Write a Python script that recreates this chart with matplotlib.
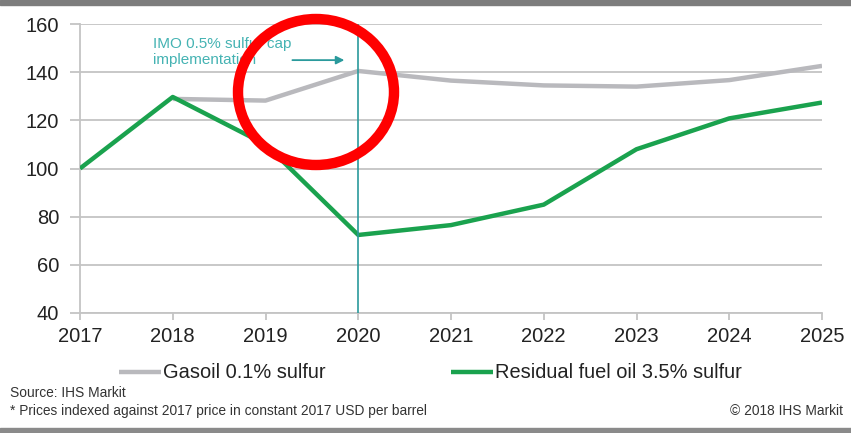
import matplotlib.pyplot as plt
from matplotlib.patches import Ellipse, Rectangle

plt.rcParams["font.family"] = ["Liberation Sans", "DejaVu Sans"]

years = [2017, 2018, 2019, 2020, 2021, 2022, 2023, 2024, 2025]
gasoil_years = [2018, 2019, 2020, 2021, 2022, 2023, 2024, 2025]
gasoil = [128.9, 128.2, 140.5, 136.5, 134.5, 134.0, 136.7, 142.6]
resid = [100.0, 129.7, 110.0, 72.4, 76.5, 85.0, 108.0, 120.8, 127.4]
yticks = [40, 60, 80, 100, 120, 140, 160]

GRAY = "#b9b9bd"
GREEN = "#1aa24e"
TEAL = "#2a9a9c"
GRID = "#c4c4c4"

fig = plt.figure(figsize=(8.51, 4.33), dpi=100)
ax = fig.add_axes([80 / 851, 1 - 313 / 433, 742 / 851, 289 / 433])

ax.plot(gasoil_years, gasoil, color=GRAY, lw=3.2, solid_capstyle="butt",
        label="Gasoil 0.1% sulfur", zorder=3)
ax.plot(years, resid, color=GREEN, lw=3.2, solid_capstyle="butt",
        label="Residual fuel oil 3.5% sulfur", zorder=4)

ax.axvline(2020, color=TEAL, lw=1.2, zorder=5)

ax.set_xlim(2017, 2025)
ax.set_ylim(40, 160)
ax.set_yticks(yticks)
ax.set_xticks(years)
ax.yaxis.grid(True, color=GRID, lw=1.3)
ax.set_axisbelow(True)
for s in ["top", "right"]:
    ax.spines[s].set_visible(False)
for s in ["left", "bottom"]:
    ax.spines[s].set_color(GRID)
    ax.spines[s].set_linewidth(1.3)
ax.tick_params(axis="y", length=7, color=GRID, width=1.3, labelsize=14.5, pad=8,
               labelcolor="#222222")
ax.tick_params(axis="x", length=5, color=GRID, width=1.3, labelsize=14.5, pad=5,
               labelcolor="#222222")

ax.text(2017.79, 154.8, "IMO 0.5% sulfur cap\nimplementation", color="#45b3b3",
        fontsize=11, ha="left", va="top", linespacing=1.25)
ax.annotate("", xy=(2019.88, 145.0), xytext=(2019.26, 145.0),
            arrowprops=dict(arrowstyle="-|>", color=TEAL, lw=1.3, mutation_scale=12))

fig.legend(loc="center", bbox_to_anchor=(0.506, 1 - 373 / 433), ncol=2, frameon=False,
           fontsize=14.4, handlelength=2.1, handletextpad=0.1, columnspacing=6.25,
           labelcolor="#222222")

fig.text(10 / 851, 1 - 393 / 433, "Source: IHS Markit", fontsize=9.9, color="#333333", va="center")
fig.text(10 / 851, 1 - 411 / 433, "* Prices indexed against 2017 price in constant 2017 USD per barrel",
         fontsize=9.9, color="#333333", va="center")
fig.text(843 / 851, 1 - 411 / 433, "\u00a9 2018 IHS Markit", fontsize=9.9, color="#333333",
         va="center", ha="right")

# frame bands top and bottom
fig.patches.append(Rectangle((0, 1 - 5 / 433), 1, 5 / 433, transform=fig.transFigure,
                             color="#7d7d7d", zorder=0))
fig.patches.append(Rectangle((0, 0), 1, 5 / 433, transform=fig.transFigure,
                             color="#8a8a8a", zorder=0))

# red circle highlight
fig.patches.append(Ellipse((316 / 851, 1 - 92 / 433), 156 / 851, 146 / 433,
                           transform=fig.transFigure, fill=False, ec="#ff0000",
                           lw=7.5, zorder=10))

fig.savefig("out.png", dpi=100)
